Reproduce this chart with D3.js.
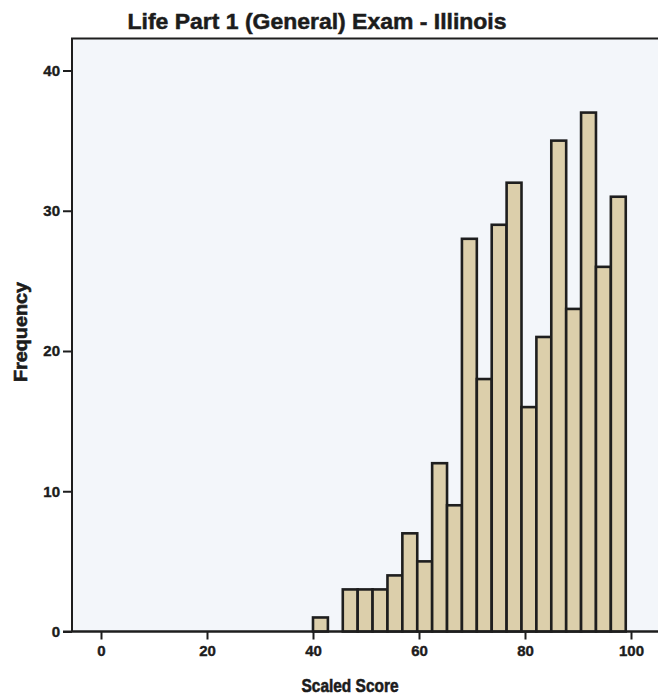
<!DOCTYPE html>
<html>
<head>
<meta charset="utf-8">
<script src="https://cdn.jsdelivr.net/npm/d3@7"></script>
<style>
  body { margin: 0; background: #fff; }
  text { font-family: "Liberation Sans", Arial, sans-serif; font-weight: bold; fill: #1c1c1c; }
</style>
</head>
<body>
<div id="chart"></div>
<script>
// histogram data
var binEdges = [40.00, 42.81, 45.62, 48.43, 51.24, 54.05, 56.86, 59.67, 62.48, 65.29, 68.10,
                70.91, 73.72, 76.53, 79.34, 82.15, 84.96, 87.77, 90.58, 93.39, 96.20];
var binWidth = 2.81;
var counts = [1, 0, 3, 3, 3, 4, 7, 5, 12, 9, 28, 18, 29, 32, 16, 21, 35, 23, 37, 26, 31];
var xTicks = [0, 20, 40, 60, 80, 100];
var yTicks = [0, 10, 20, 30, 40];

var W = 658, H = 698;
var plot = {left: 72, top: 38.5, right: 662, bottom: 631.5};

var svg = d3.select("#chart")
  .append("svg")
    .attr("width", W)
    .attr("height", H);

var x = d3.scaleLinear()
  .domain([0, 100])
  .range([101, 631]);

var y = d3.scaleLinear()
  .domain([0, 40])
  .range([plot.bottom, 70.5]);

// plot background
svg.append("rect")
  .attr("x", plot.left)
  .attr("y", plot.top)
  .attr("width", plot.right - plot.left)
  .attr("height", plot.bottom - plot.top)
  .style("fill", "#f3f6fa")
  .style("stroke", "#1e1e1e")
  .style("stroke-width", 2);

// bars
var data = counts.map(function(c, i) { return {x0: binEdges[i], n: c}; })
  .filter(function(d) { return d.n > 0; });

svg.append("g")
  .selectAll("rect")
  .data(data)
  .enter()
  .append("rect")
    .attr("x", function(d) { return x(d.x0); })
    .attr("y", function(d) { return y(d.n); })
    .attr("width", function(d) { return x(d.x0 + binWidth) - x(d.x0); })
    .attr("height", function(d) { return y(0) - y(d.n); })
    .style("fill", "#dccfab")
    .style("stroke", "#1e1e1e")
    .style("stroke-width", 2.6);

// y axis
var yAxis = svg.append("g")
  .attr("transform", "translate(" + plot.left + ",0)")
  .call(d3.axisLeft(y).tickValues(yTicks).tickSize(9).tickPadding(3));
yAxis.select(".domain").remove();

// x axis
var xAxis = svg.append("g")
  .attr("transform", "translate(0," + plot.bottom + ")")
  .call(d3.axisBottom(x).tickValues(xTicks).tickSize(8).tickPadding(6));
xAxis.select(".domain").remove();

svg.selectAll(".tick line").attr("stroke", "#1e1e1e").attr("stroke-width", 2);
svg.selectAll(".tick text")
  .style("font-family", "'Liberation Sans', Arial, sans-serif")
  .style("font-weight", "bold")
  .style("font-size", "15px")
  .style("stroke", "#1c1c1c")
  .style("stroke-width", 0.4)
  .attr("fill", "#1c1c1c");

// bottom line redrawn over the bars
svg.append("line")
  .attr("x1", 63).attr("x2", W)
  .attr("y1", plot.bottom).attr("y2", plot.bottom)
  .attr("stroke", "#1e1e1e")
  .attr("stroke-width", 2.2);

// title
svg.append("text")
  .attr("x", 317)
  .attr("y", 29)
  .attr("text-anchor", "middle")
  .attr("textLength", 379)
  .attr("lengthAdjust", "spacingAndGlyphs")
  .style("font-size", "21.5px")
  .style("stroke", "#1c1c1c")
  .style("stroke-width", 0.5)
  .text("Life Part 1 (General) Exam - Illinois");

// axis titles
svg.append("text")
  .attr("x", 350)
  .attr("y", 692)
  .attr("text-anchor", "middle")
  .attr("textLength", 97)
  .attr("lengthAdjust", "spacingAndGlyphs")
  .style("font-size", "19px")
  .style("stroke", "#1c1c1c")
  .style("stroke-width", 0.6)
  .text("Scaled Score");

svg.append("text")
  .attr("transform", "rotate(-90)")
  .attr("x", -332)
  .attr("y", 27)
  .attr("text-anchor", "middle")
  .attr("textLength", 100)
  .attr("lengthAdjust", "spacingAndGlyphs")
  .style("font-size", "19px")
  .style("stroke", "#1c1c1c")
  .style("stroke-width", 0.6)
  .text("Frequency");
</script>
</body>
</html>
